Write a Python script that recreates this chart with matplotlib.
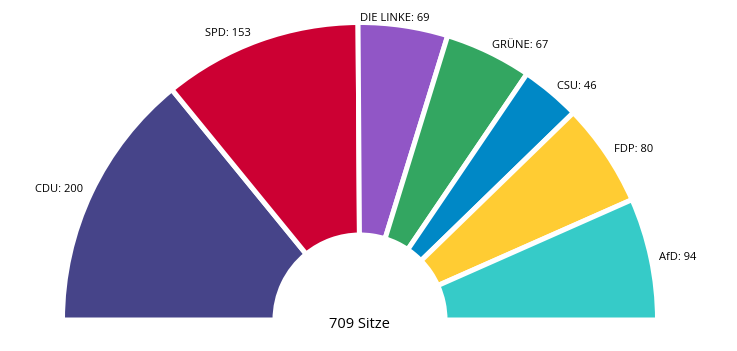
import numpy as np
import matplotlib.pyplot as plt

plt.rcParams['font.family'] = ['Open Sans', 'DejaVu Sans']

# Sitzverteilung (von links nach rechts)
parties = ["CDU", "SPD", "DIE LINKE", "GRÜNE", "CSU", "FDP", "AfD"]
seats = [200, 153, 69, 67, 46, 80, 94]
colors = ["#464489", "#cc0033", "#9156c6", "#33a661", "#0088c6", "#ffcc33", "#36cbc8"]
total_label = "709 Sitze"

W, H = 737, 351
fig = plt.figure(figsize=(W / 100, H / 100), dpi=100)
ax = fig.add_axes([0, 0, 1, 1])

cx, cy = 360, 31
r_out, r_in = 297.5, 85
total = sum(seats)

# Halbkreis: unsichtbare zweite Hälfte anhängen
wedges, _ = ax.pie(seats + [total], colors=colors + ["none"], startangle=180,
                   counterclock=False, center=(cx, cy), radius=r_out,
                   wedgeprops=dict(width=r_out - r_in, edgecolor="white", linewidth=3.6),
                   frame=True)
wedges[-1].set_visible(False)
ax.set_xlim(0, W)
ax.set_ylim(0, H)
ax.set_aspect('equal')
ax.axis('off')

# Beschriftungen außen an der Segmentmitte
ends = 180 - np.cumsum(seats) / total * 180
starts = np.concatenate([[180], ends[:-1]])
mids = (starts + ends) / 2
for name, n, a in zip(parties, seats, mids):
    t = np.deg2rad(a)
    x = cx + 306 * np.cos(t)
    y = cy + 306 * np.sin(t) - 1
    if abs(np.cos(t)) < 0.2:
        ha = 'center'
        x -= 10
    elif np.cos(t) > 0:
        ha = 'left'
    else:
        ha = 'right'
        if np.sin(t) > 0.8:
            x -= 5
    ax.text(x, y, f"{name}: {n}", ha=ha, va='center', fontsize=8)

ax.text(cx - 1, H - 325, total_label, ha='center', va='center', fontsize=10.5)

fig.savefig("out.png", dpi=100)
